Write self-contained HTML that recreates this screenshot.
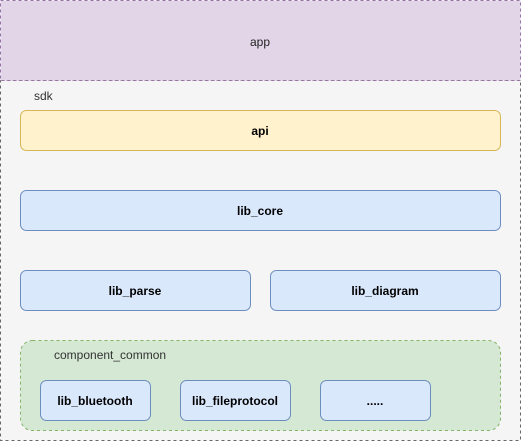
<!DOCTYPE html>
<html><head><meta charset="utf-8"><style>
html,body{margin:0;padding:0;background:#fff;}
svg{display:block}
text{font-family:"Liberation Sans",sans-serif;}
</style></head><body>
<svg width="521" height="441" viewBox="0 0 521 441" xmlns="http://www.w3.org/2000/svg">
<rect x="0.5" y="80.5" width="520" height="360" fill="#f5f5f5" stroke="#666" stroke-dasharray="3 3"/>
<rect x="0.5" y="0.5" width="520" height="80" fill="#e1d5e7" stroke="#9673a6" stroke-dasharray="3 3"/>
<text x="260" y="46" font-size="12" text-anchor="middle" fill="#222">app</text>
<text x="34" y="100" font-size="12" fill="#333">sdk</text>
<g font-size="12" font-weight="bold" text-anchor="middle" fill="#000">
<rect x="20.5" y="110.5" width="480" height="40" rx="6" fill="#fff2cc" stroke="#d6b656"/>
<text x="260" y="135">api</text>
<rect x="20.5" y="190.5" width="480" height="40" rx="6" fill="#dae8fc" stroke="#6c8ebf"/>
<text x="260" y="215">lib_core</text>
<rect x="20.5" y="270.5" width="230" height="40" rx="6" fill="#dae8fc" stroke="#6c8ebf"/>
<text x="135" y="295">lib_parse</text>
<rect x="270.5" y="270.5" width="230" height="40" rx="6" fill="#dae8fc" stroke="#6c8ebf"/>
<text x="385" y="295">lib_diagram</text>
<rect x="20.5" y="340.5" width="480" height="90" rx="12" fill="#d5e8d4" stroke="#82b366" stroke-dasharray="3 3"/>
<text x="54" y="359" font-size="12" font-weight="normal" text-anchor="start" fill="#333">component_common</text>
<rect x="40.5" y="380.5" width="110" height="40" rx="6" fill="#dae8fc" stroke="#6c8ebf"/>
<text x="95" y="405">lib_bluetooth</text>
<rect x="180.5" y="380.5" width="110" height="40" rx="6" fill="#dae8fc" stroke="#6c8ebf"/>
<text x="235" y="405">lib_fileprotocol</text>
<rect x="320.5" y="380.5" width="110" height="40" rx="6" fill="#dae8fc" stroke="#6c8ebf"/>
<text x="375" y="405">.....</text>
</g>
</svg>
</body></html>
